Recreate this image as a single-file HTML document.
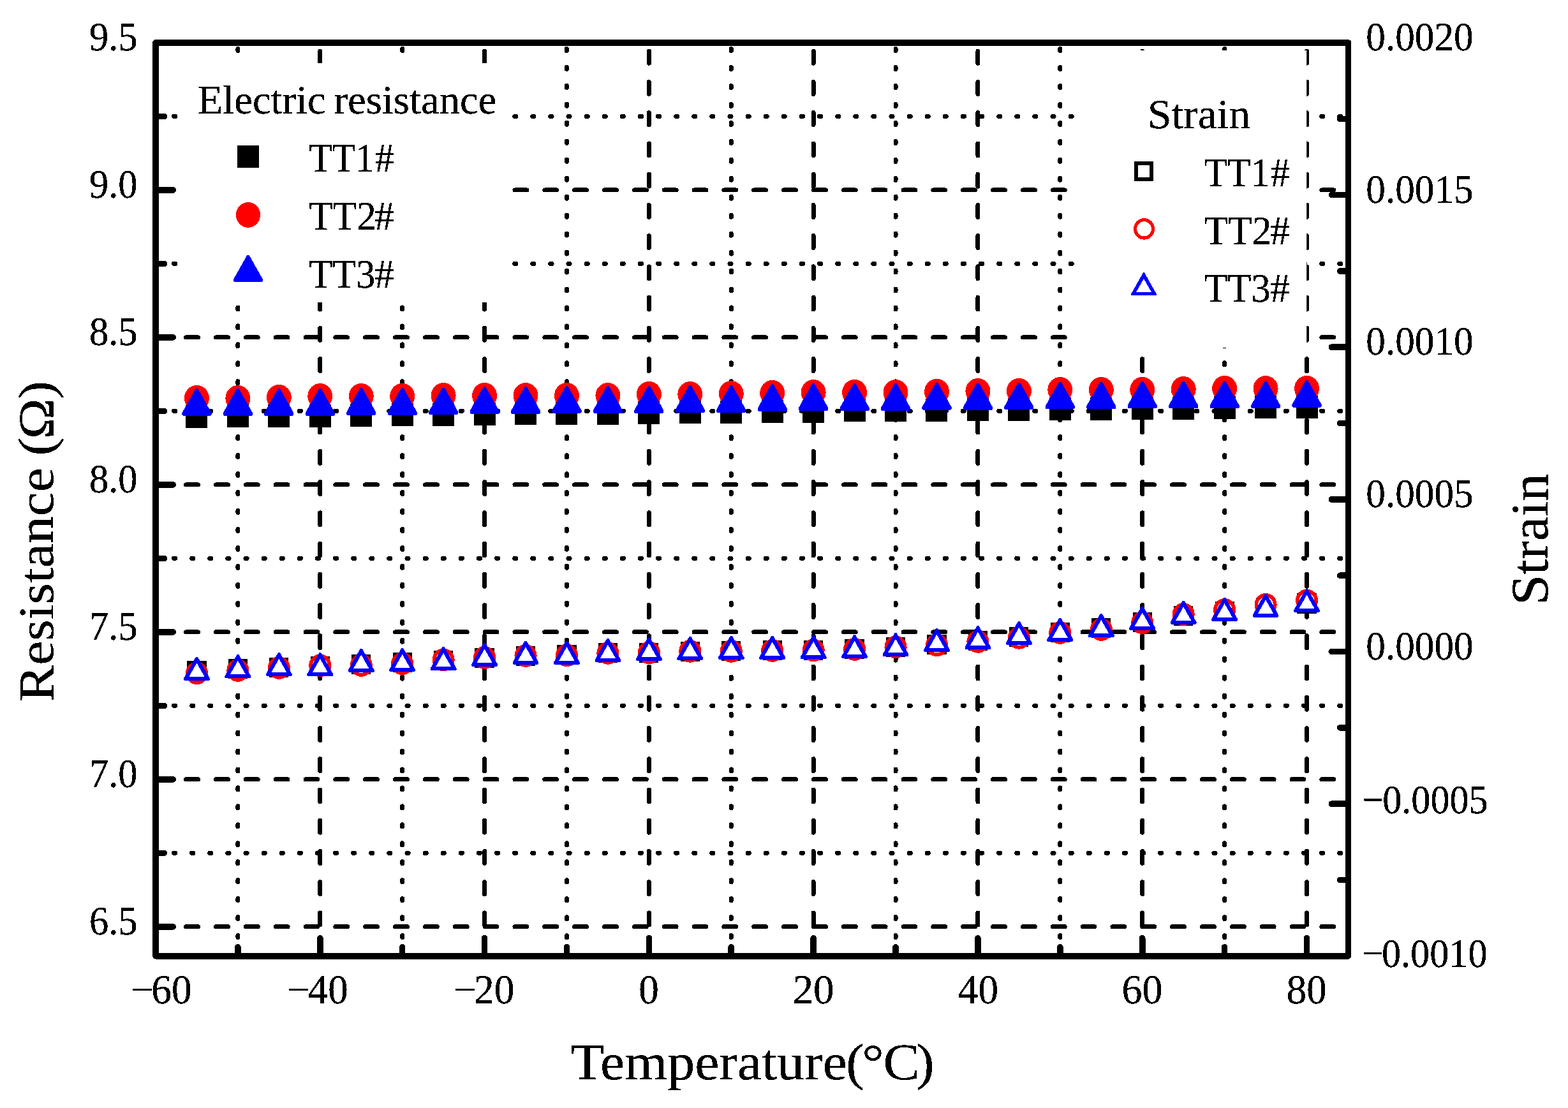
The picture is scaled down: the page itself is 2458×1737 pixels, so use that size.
<!DOCTYPE html>
<html lang="en"><head><meta charset="utf-8"><title>Resistance and strain versus temperature</title>
<style>html,body{margin:0;padding:0;background:#fff}svg{display:block}</style></head>
<body><svg width="2458" height="1737" viewBox="0 0 2458 1737">
<rect width="2458" height="1737" fill="#fff"/>
<g fill="none" stroke="#000" stroke-width="7.0" stroke-linecap="round" shape-rendering="crispEdges"><path d="M244.75 1452.80H2113.50" stroke-dasharray="18.9 27.95"/><path d="M244.75 1221.83H2113.50" stroke-dasharray="18.9 27.95"/><path d="M244.75 990.87H2113.50" stroke-dasharray="18.9 27.95"/><path d="M244.75 759.90H2113.50" stroke-dasharray="18.9 27.95"/><path d="M244.75 528.93H2113.50" stroke-dasharray="18.9 27.95"/><path d="M244.75 297.97H2113.50" stroke-dasharray="18.9 27.95"/><path d="M244.40 1337.32H2113.50" stroke-dasharray="2.2 25.91"/><path d="M244.40 1106.35H2113.50" stroke-dasharray="2.2 25.91"/><path d="M244.40 875.38H2113.50" stroke-dasharray="2.2 25.91"/><path d="M244.40 644.42H2113.50" stroke-dasharray="2.2 25.91"/><path d="M244.40 413.45H2113.50" stroke-dasharray="2.2 25.91"/><path d="M244.40 182.48H2113.50" stroke-dasharray="2.2 25.91"/><path d="M501.79 1498.10V67.00" stroke-dasharray="18.9 29.34"/><path d="M759.57 1498.10V67.00" stroke-dasharray="18.9 29.34"/><path d="M1017.36 1498.10V67.00" stroke-dasharray="18.9 29.34"/><path d="M1275.14 1498.10V67.00" stroke-dasharray="18.9 29.34"/><path d="M1532.93 1498.10V67.00" stroke-dasharray="18.9 29.34"/><path d="M1790.71 1498.10V67.00" stroke-dasharray="18.9 29.34"/><path d="M2048.50 1498.10V67.00" stroke-dasharray="18.9 29.34"/><path d="M372.89 1498.56V67.00" stroke-dasharray="3.0 25.960"/><path d="M630.68 1498.56V67.00" stroke-dasharray="3.0 25.960"/><path d="M888.46 1498.56V67.00" stroke-dasharray="3.0 25.960"/><path d="M1146.25 1498.56V67.00" stroke-dasharray="3.0 25.960"/><path d="M1404.04 1498.56V67.00" stroke-dasharray="3.0 25.960"/><path d="M1661.82 1498.56V67.00" stroke-dasharray="3.0 25.960"/><path d="M1919.61 1498.56V67.00" stroke-dasharray="3.0 25.960"/></g>
<rect x="283" y="99" width="507" height="375" fill="#fff"/>
<rect x="1689" y="79" width="359.2" height="466" fill="#fff"/>
<g shape-rendering="crispEdges"><rect x="291.45" y="635.40" width="34.0" height="35.4" fill="#000"/><ellipse cx="308.45" cy="624.10" rx="19.5" ry="20.1" fill="#f00"/><path d="M306.69 609.40L310.20 609.40L331.50 647.10L331.50 650.40L330.20 651.70L286.70 651.70L285.40 650.40L285.40 647.10Z" fill="#00f"/><rect x="355.89" y="634.40" width="34.0" height="35.4" fill="#000"/><ellipse cx="372.89" cy="624.10" rx="19.5" ry="20.1" fill="#f00"/><path d="M371.14 609.40L374.64 609.40L395.94 647.10L395.94 650.40L394.64 651.70L351.14 651.70L349.84 650.40L349.84 647.10Z" fill="#00f"/><rect x="420.34" y="634.40" width="34.0" height="35.4" fill="#000"/><ellipse cx="437.34" cy="623.10" rx="19.5" ry="20.1" fill="#f00"/><path d="M435.59 609.40L439.09 609.40L460.39 647.10L460.39 650.40L459.09 651.70L415.59 651.70L414.29 650.40L414.29 647.10Z" fill="#00f"/><rect x="484.79" y="634.40" width="34.0" height="35.4" fill="#000"/><ellipse cx="501.79" cy="621.10" rx="19.5" ry="20.1" fill="#f00"/><path d="M500.03 609.40L503.54 609.40L524.84 647.10L524.84 650.40L523.54 651.70L480.04 651.70L478.74 650.40L478.74 647.10Z" fill="#00f"/><rect x="549.23" y="633.40" width="34.0" height="35.4" fill="#000"/><ellipse cx="566.23" cy="621.10" rx="19.5" ry="20.1" fill="#f00"/><path d="M564.48 608.40L567.98 608.40L589.28 646.10L589.28 649.40L587.98 650.70L544.48 650.70L543.18 649.40L543.18 646.10Z" fill="#00f"/><rect x="613.68" y="632.40" width="34.0" height="35.4" fill="#000"/><ellipse cx="630.68" cy="621.10" rx="19.5" ry="20.1" fill="#f00"/><path d="M628.93 608.40L632.43 608.40L653.73 646.10L653.73 649.40L652.43 650.70L608.93 650.70L607.63 649.40L607.63 646.10Z" fill="#00f"/><rect x="678.12" y="632.40" width="34.0" height="35.4" fill="#000"/><ellipse cx="695.12" cy="620.10" rx="19.5" ry="20.1" fill="#f00"/><path d="M693.37 607.80L696.88 607.80L718.17 645.50L718.17 648.80L716.88 650.10L673.38 650.10L672.08 648.80L672.08 645.50Z" fill="#00f"/><rect x="742.57" y="631.40" width="34.0" height="35.4" fill="#000"/><ellipse cx="759.57" cy="620.10" rx="19.5" ry="20.1" fill="#f00"/><path d="M757.82 606.40L761.32 606.40L782.62 644.10L782.62 647.40L781.32 648.70L737.82 648.70L736.52 647.40L736.52 644.10Z" fill="#00f"/><rect x="807.02" y="630.40" width="34.0" height="35.4" fill="#000"/><ellipse cx="824.02" cy="620.10" rx="19.5" ry="20.1" fill="#f00"/><path d="M822.27 606.40L825.77 606.40L847.07 644.10L847.07 647.40L845.77 648.70L802.27 648.70L800.97 647.40L800.97 644.10Z" fill="#00f"/><rect x="871.46" y="630.40" width="34.0" height="35.4" fill="#000"/><ellipse cx="888.46" cy="620.10" rx="19.5" ry="20.1" fill="#f00"/><path d="M886.71 605.40L890.22 605.40L911.51 643.10L911.51 646.40L910.21 647.70L866.71 647.70L865.41 646.40L865.41 643.10Z" fill="#00f"/><rect x="935.91" y="630.40" width="34.0" height="35.4" fill="#000"/><ellipse cx="952.91" cy="620.10" rx="19.5" ry="20.1" fill="#f00"/><path d="M951.16 605.40L954.66 605.40L975.96 643.10L975.96 646.40L974.66 647.70L931.16 647.70L929.86 646.40L929.86 643.10Z" fill="#00f"/><rect x="1000.36" y="629.40" width="34.0" height="35.4" fill="#000"/><ellipse cx="1017.36" cy="618.10" rx="19.5" ry="20.1" fill="#f00"/><path d="M1015.61 605.40L1019.11 605.40L1040.41 643.10L1040.41 646.40L1039.11 647.70L995.61 647.70L994.31 646.40L994.31 643.10Z" fill="#00f"/><rect x="1064.80" y="628.40" width="34.0" height="35.4" fill="#000"/><ellipse cx="1081.80" cy="618.10" rx="19.5" ry="20.1" fill="#f00"/><path d="M1080.05 604.40L1083.56 604.40L1104.85 642.10L1104.85 645.40L1103.55 646.70L1060.05 646.70L1058.75 645.40L1058.75 642.10Z" fill="#00f"/><rect x="1129.25" y="628.40" width="34.0" height="35.4" fill="#000"/><ellipse cx="1146.25" cy="617.10" rx="19.5" ry="20.1" fill="#f00"/><path d="M1144.50 604.40L1148.00 604.40L1169.30 642.10L1169.30 645.40L1168.00 646.70L1124.50 646.70L1123.20 645.40L1123.20 642.10Z" fill="#00f"/><rect x="1193.70" y="627.30" width="34.0" height="35.4" fill="#000"/><ellipse cx="1210.70" cy="616.10" rx="19.5" ry="20.1" fill="#f00"/><path d="M1208.94 602.40L1212.45 602.40L1233.75 640.10L1233.75 643.40L1232.45 644.70L1188.95 644.70L1187.65 643.40L1187.65 640.10Z" fill="#00f"/><rect x="1258.14" y="627.30" width="34.0" height="35.4" fill="#000"/><ellipse cx="1275.14" cy="615.10" rx="19.5" ry="20.1" fill="#f00"/><path d="M1273.39 601.40L1276.89 601.40L1298.19 639.10L1298.19 642.40L1296.89 643.70L1253.39 643.70L1252.09 642.40L1252.09 639.10Z" fill="#00f"/><rect x="1322.59" y="625.30" width="34.0" height="35.4" fill="#000"/><ellipse cx="1339.59" cy="615.10" rx="19.5" ry="20.1" fill="#f00"/><path d="M1337.84 601.40L1341.34 601.40L1362.64 639.10L1362.64 642.40L1361.34 643.70L1317.84 643.70L1316.54 642.40L1316.54 639.10Z" fill="#00f"/><rect x="1387.04" y="625.30" width="34.0" height="35.4" fill="#000"/><ellipse cx="1404.04" cy="615.10" rx="19.5" ry="20.1" fill="#f00"/><path d="M1402.28 601.40L1405.79 601.40L1427.09 639.10L1427.09 642.40L1425.79 643.70L1382.29 643.70L1380.99 642.40L1380.99 639.10Z" fill="#00f"/><rect x="1451.48" y="625.30" width="34.0" height="35.4" fill="#000"/><ellipse cx="1468.48" cy="614.10" rx="19.5" ry="20.1" fill="#f00"/><path d="M1466.73 600.40L1470.23 600.40L1491.53 638.10L1491.53 641.40L1490.23 642.70L1446.73 642.70L1445.43 641.40L1445.43 638.10Z" fill="#00f"/><rect x="1515.93" y="624.30" width="34.0" height="35.4" fill="#000"/><ellipse cx="1532.93" cy="613.10" rx="19.5" ry="20.1" fill="#f00"/><path d="M1531.18 600.40L1534.68 600.40L1555.98 638.10L1555.98 641.40L1554.68 642.70L1511.18 642.70L1509.88 641.40L1509.88 638.10Z" fill="#00f"/><rect x="1580.38" y="624.30" width="34.0" height="35.4" fill="#000"/><ellipse cx="1597.38" cy="613.10" rx="19.5" ry="20.1" fill="#f00"/><path d="M1595.62 599.80L1599.13 599.80L1620.42 637.50L1620.42 640.80L1619.12 642.10L1575.62 642.10L1574.33 640.80L1574.33 637.50Z" fill="#00f"/><rect x="1644.82" y="623.30" width="34.0" height="35.4" fill="#000"/><ellipse cx="1661.82" cy="611.10" rx="19.5" ry="20.1" fill="#f00"/><path d="M1660.07 598.80L1663.57 598.80L1684.87 636.50L1684.87 639.80L1683.57 641.10L1640.07 641.10L1638.77 639.80L1638.77 636.50Z" fill="#00f"/><rect x="1709.27" y="623.30" width="34.0" height="35.4" fill="#000"/><ellipse cx="1726.27" cy="611.10" rx="19.5" ry="20.1" fill="#f00"/><path d="M1724.52 598.80L1728.02 598.80L1749.32 636.50L1749.32 639.80L1748.02 641.10L1704.52 641.10L1703.22 639.80L1703.22 636.50Z" fill="#00f"/><rect x="1773.71" y="622.30" width="34.0" height="35.4" fill="#000"/><ellipse cx="1790.71" cy="611.10" rx="19.5" ry="20.1" fill="#f00"/><path d="M1788.96 597.80L1792.47 597.80L1813.76 635.50L1813.76 638.80L1812.46 640.10L1768.96 640.10L1767.66 638.80L1767.66 635.50Z" fill="#00f"/><rect x="1838.16" y="622.30" width="34.0" height="35.4" fill="#000"/><ellipse cx="1855.16" cy="610.10" rx="19.5" ry="20.1" fill="#f00"/><path d="M1853.41 597.80L1856.91 597.80L1878.21 635.50L1878.21 638.80L1876.91 640.10L1833.41 640.10L1832.11 638.80L1832.11 635.50Z" fill="#00f"/><rect x="1902.61" y="621.30" width="34.0" height="35.4" fill="#000"/><ellipse cx="1919.61" cy="609.10" rx="19.5" ry="20.1" fill="#f00"/><path d="M1917.86 597.80L1921.36 597.80L1942.66 635.50L1942.66 638.80L1941.36 640.10L1897.86 640.10L1896.56 638.80L1896.56 635.50Z" fill="#00f"/><rect x="1967.05" y="620.30" width="34.0" height="35.4" fill="#000"/><ellipse cx="1984.05" cy="609.10" rx="19.5" ry="20.1" fill="#f00"/><path d="M1982.30 597.80L1985.81 597.80L2007.10 635.50L2007.10 638.80L2005.80 640.10L1962.30 640.10L1961.00 638.80L1961.00 635.50Z" fill="#00f"/><rect x="2031.50" y="620.30" width="34.0" height="35.4" fill="#000"/><ellipse cx="2048.50" cy="609.10" rx="19.5" ry="20.1" fill="#f00"/><path d="M2046.75 596.40L2050.25 596.40L2071.55 634.10L2071.55 637.40L2070.25 638.70L2026.75 638.70L2025.45 637.40L2025.45 634.10Z" fill="#00f"/><rect x="296.40" y="1038.75" width="24.10" height="25.10" fill="#fff" stroke="#000" stroke-width="6.1"/><ellipse cx="308.45" cy="1055.30" rx="14.65" ry="15.00" fill="#fff" stroke="#f00" stroke-width="5.8"/><path d="M307.09 1029.60L309.80 1029.60L328.85 1063.29L328.85 1065.50L327.55 1066.80L289.35 1066.80L288.05 1065.50L288.05 1063.29Z" fill="#00f"/><path d="M308.45 1039.40L320.55 1060.80H296.35Z" fill="#fff"/><rect x="360.84" y="1036.15" width="24.10" height="25.10" fill="#fff" stroke="#000" stroke-width="6.1"/><ellipse cx="372.89" cy="1050.90" rx="14.65" ry="15.00" fill="#fff" stroke="#f00" stroke-width="5.8"/><path d="M371.54 1026.00L374.24 1026.00L393.29 1059.69L393.29 1061.90L391.99 1063.20L353.79 1063.20L352.49 1061.90L352.49 1059.69Z" fill="#00f"/><path d="M372.89 1035.80L384.99 1057.20H360.79Z" fill="#fff"/><rect x="425.29" y="1033.75" width="24.10" height="25.10" fill="#fff" stroke="#000" stroke-width="6.1"/><ellipse cx="437.34" cy="1046.90" rx="14.65" ry="15.00" fill="#fff" stroke="#f00" stroke-width="5.8"/><path d="M435.99 1023.00L438.69 1023.00L457.74 1056.69L457.74 1058.90L456.44 1060.20L418.24 1060.20L416.94 1058.90L416.94 1056.69Z" fill="#00f"/><path d="M437.34 1032.80L449.44 1054.20H425.24Z" fill="#fff"/><rect x="489.74" y="1032.15" width="24.10" height="25.10" fill="#fff" stroke="#000" stroke-width="6.1"/><ellipse cx="501.79" cy="1043.30" rx="14.65" ry="15.00" fill="#fff" stroke="#f00" stroke-width="5.8"/><path d="M500.43 1023.00L503.14 1023.00L522.19 1056.69L522.19 1058.90L520.89 1060.20L482.69 1060.20L481.39 1058.90L481.39 1056.69Z" fill="#00f"/><path d="M501.79 1032.80L513.89 1054.20H489.69Z" fill="#fff"/><rect x="554.18" y="1029.15" width="24.10" height="25.10" fill="#fff" stroke="#000" stroke-width="6.1"/><ellipse cx="566.23" cy="1042.90" rx="14.65" ry="15.00" fill="#fff" stroke="#f00" stroke-width="5.8"/><path d="M564.88 1016.60L567.58 1016.60L586.63 1050.29L586.63 1052.50L585.33 1053.80L547.13 1053.80L545.83 1052.50L545.83 1050.29Z" fill="#00f"/><path d="M566.23 1026.40L578.33 1047.80H554.13Z" fill="#fff"/><rect x="618.63" y="1026.15" width="24.10" height="25.10" fill="#fff" stroke="#000" stroke-width="6.1"/><ellipse cx="630.68" cy="1040.30" rx="14.65" ry="15.00" fill="#fff" stroke="#f00" stroke-width="5.8"/><path d="M629.33 1016.00L632.03 1016.00L651.08 1049.69L651.08 1051.90L649.78 1053.20L611.58 1053.20L610.28 1051.90L610.28 1049.69Z" fill="#00f"/><path d="M630.68 1025.80L642.78 1047.20H618.58Z" fill="#fff"/><rect x="683.07" y="1023.15" width="24.10" height="25.10" fill="#fff" stroke="#000" stroke-width="6.1"/><ellipse cx="695.12" cy="1034.30" rx="14.65" ry="15.00" fill="#fff" stroke="#f00" stroke-width="5.8"/><path d="M693.77 1014.00L696.48 1014.00L715.52 1047.69L715.52 1049.90L714.23 1051.20L676.02 1051.20L674.73 1049.90L674.73 1047.69Z" fill="#00f"/><path d="M695.12 1023.80L707.23 1045.20H683.02Z" fill="#fff"/><rect x="747.52" y="1019.15" width="24.10" height="25.10" fill="#fff" stroke="#000" stroke-width="6.1"/><ellipse cx="759.57" cy="1030.90" rx="14.65" ry="15.00" fill="#fff" stroke="#f00" stroke-width="5.8"/><path d="M758.22 1007.60L760.92 1007.60L779.97 1041.29L779.97 1043.50L778.67 1044.80L740.47 1044.80L739.17 1043.50L739.17 1041.29Z" fill="#00f"/><path d="M759.57 1017.40L771.67 1038.80H747.47Z" fill="#fff"/><rect x="811.97" y="1016.15" width="24.10" height="25.10" fill="#fff" stroke="#000" stroke-width="6.1"/><ellipse cx="824.02" cy="1027.90" rx="14.65" ry="15.00" fill="#fff" stroke="#f00" stroke-width="5.8"/><path d="M822.67 1004.50L825.37 1004.50L844.42 1038.19L844.42 1040.40L843.12 1041.70L804.92 1041.70L803.62 1040.40L803.62 1038.19Z" fill="#00f"/><path d="M824.02 1014.30L836.12 1035.70H811.92Z" fill="#fff"/><rect x="876.41" y="1014.15" width="24.10" height="25.10" fill="#fff" stroke="#000" stroke-width="6.1"/><ellipse cx="888.46" cy="1027.30" rx="14.65" ry="15.00" fill="#fff" stroke="#f00" stroke-width="5.8"/><path d="M887.11 1004.50L889.82 1004.50L908.86 1038.19L908.86 1040.40L907.56 1041.70L869.36 1041.70L868.06 1040.40L868.06 1038.19Z" fill="#00f"/><path d="M888.46 1014.30L900.56 1035.70H876.36Z" fill="#fff"/><rect x="940.86" y="1011.15" width="24.10" height="25.10" fill="#fff" stroke="#000" stroke-width="6.1"/><ellipse cx="952.91" cy="1023.80" rx="14.65" ry="15.00" fill="#fff" stroke="#f00" stroke-width="5.8"/><path d="M951.56 1000.90L954.26 1000.90L973.31 1034.59L973.31 1036.80L972.01 1038.10L933.81 1038.10L932.51 1036.80L932.51 1034.59Z" fill="#00f"/><path d="M952.91 1010.70L965.01 1032.10H940.81Z" fill="#fff"/><rect x="1005.31" y="1011.15" width="24.10" height="25.10" fill="#fff" stroke="#000" stroke-width="6.1"/><ellipse cx="1017.36" cy="1023.20" rx="14.65" ry="15.00" fill="#fff" stroke="#f00" stroke-width="5.8"/><path d="M1016.01 998.90L1018.71 998.90L1037.76 1032.59L1037.76 1034.80L1036.46 1036.10L998.26 1036.10L996.96 1034.80L996.96 1032.59Z" fill="#00f"/><path d="M1017.36 1008.70L1029.46 1030.10H1005.26Z" fill="#fff"/><rect x="1069.75" y="1009.15" width="24.10" height="25.10" fill="#fff" stroke="#000" stroke-width="6.1"/><ellipse cx="1081.80" cy="1020.80" rx="14.65" ry="15.00" fill="#fff" stroke="#f00" stroke-width="5.8"/><path d="M1080.45 997.90L1083.16 997.90L1102.20 1031.59L1102.20 1033.80L1100.90 1035.10L1062.70 1035.10L1061.40 1033.80L1061.40 1031.59Z" fill="#00f"/><path d="M1081.80 1007.70L1093.90 1029.10H1069.70Z" fill="#fff"/><rect x="1134.20" y="1008.15" width="24.10" height="25.10" fill="#fff" stroke="#000" stroke-width="6.1"/><ellipse cx="1146.25" cy="1020.80" rx="14.65" ry="15.00" fill="#fff" stroke="#f00" stroke-width="5.8"/><path d="M1144.90 996.90L1147.60 996.90L1166.65 1030.59L1166.65 1032.80L1165.35 1034.10L1127.15 1034.10L1125.85 1032.80L1125.85 1030.59Z" fill="#00f"/><path d="M1146.25 1006.70L1158.35 1028.10H1134.15Z" fill="#fff"/><rect x="1198.65" y="1007.15" width="24.10" height="25.10" fill="#fff" stroke="#000" stroke-width="6.1"/><ellipse cx="1210.70" cy="1019.90" rx="14.65" ry="15.00" fill="#fff" stroke="#f00" stroke-width="5.8"/><path d="M1209.34 996.60L1212.05 996.60L1231.10 1030.29L1231.10 1032.50L1229.80 1033.80L1191.60 1033.80L1190.30 1032.50L1190.30 1030.29Z" fill="#00f"/><path d="M1210.70 1006.40L1222.80 1027.80H1198.60Z" fill="#fff"/><rect x="1263.09" y="1007.15" width="24.10" height="25.10" fill="#fff" stroke="#000" stroke-width="6.1"/><ellipse cx="1275.14" cy="1019.30" rx="14.65" ry="15.00" fill="#fff" stroke="#f00" stroke-width="5.8"/><path d="M1273.79 996.00L1276.49 996.00L1295.54 1029.69L1295.54 1031.90L1294.24 1033.20L1256.04 1033.20L1254.74 1031.90L1254.74 1029.69Z" fill="#00f"/><path d="M1275.14 1005.80L1287.24 1027.20H1263.04Z" fill="#fff"/><rect x="1327.54" y="1005.15" width="24.10" height="25.10" fill="#fff" stroke="#000" stroke-width="6.1"/><ellipse cx="1339.59" cy="1017.90" rx="14.65" ry="15.00" fill="#fff" stroke="#f00" stroke-width="5.8"/><path d="M1338.24 995.00L1340.94 995.00L1359.99 1028.69L1359.99 1030.90L1358.69 1032.20L1320.49 1032.20L1319.19 1030.90L1319.19 1028.69Z" fill="#00f"/><path d="M1339.59 1004.80L1351.69 1026.20H1327.49Z" fill="#fff"/><rect x="1391.99" y="1002.15" width="24.10" height="25.10" fill="#fff" stroke="#000" stroke-width="6.1"/><ellipse cx="1404.04" cy="1014.30" rx="14.65" ry="15.00" fill="#fff" stroke="#f00" stroke-width="5.8"/><path d="M1402.68 992.00L1405.39 992.00L1424.44 1025.69L1424.44 1027.90L1423.14 1029.20L1384.94 1029.20L1383.64 1027.90L1383.64 1025.69Z" fill="#00f"/><path d="M1404.04 1001.80L1416.14 1023.20H1391.94Z" fill="#fff"/><rect x="1456.43" y="998.15" width="24.10" height="25.10" fill="#fff" stroke="#000" stroke-width="6.1"/><ellipse cx="1468.48" cy="1011.30" rx="14.65" ry="15.00" fill="#fff" stroke="#f00" stroke-width="5.8"/><path d="M1467.13 984.90L1469.83 984.90L1488.88 1018.59L1488.88 1020.80L1487.58 1022.10L1449.38 1022.10L1448.08 1020.80L1448.08 1018.59Z" fill="#00f"/><path d="M1468.48 994.70L1480.58 1016.10H1456.38Z" fill="#fff"/><rect x="1520.88" y="992.15" width="24.10" height="25.10" fill="#fff" stroke="#000" stroke-width="6.1"/><ellipse cx="1532.93" cy="1005.90" rx="14.65" ry="15.00" fill="#fff" stroke="#f00" stroke-width="5.8"/><path d="M1531.58 980.90L1534.28 980.90L1553.33 1014.59L1553.33 1016.80L1552.03 1018.10L1513.83 1018.10L1512.53 1016.80L1512.53 1014.59Z" fill="#00f"/><path d="M1532.93 990.70L1545.03 1012.10H1520.83Z" fill="#fff"/><rect x="1585.33" y="986.15" width="24.10" height="25.10" fill="#fff" stroke="#000" stroke-width="6.1"/><ellipse cx="1597.38" cy="999.80" rx="14.65" ry="15.00" fill="#fff" stroke="#f00" stroke-width="5.8"/><path d="M1596.02 973.90L1598.73 973.90L1617.78 1007.59L1617.78 1009.80L1616.48 1011.10L1578.27 1011.10L1576.97 1009.80L1576.97 1007.59Z" fill="#00f"/><path d="M1597.38 983.70L1609.47 1005.10H1585.28Z" fill="#fff"/><rect x="1649.77" y="979.15" width="24.10" height="25.10" fill="#fff" stroke="#000" stroke-width="6.1"/><ellipse cx="1661.82" cy="991.90" rx="14.65" ry="15.00" fill="#fff" stroke="#f00" stroke-width="5.8"/><path d="M1660.47 968.60L1663.17 968.60L1682.22 1002.29L1682.22 1004.50L1680.92 1005.80L1642.72 1005.80L1641.42 1004.50L1641.42 1002.29Z" fill="#00f"/><path d="M1661.82 978.40L1673.92 999.80H1649.72Z" fill="#fff"/><rect x="1714.22" y="972.15" width="24.10" height="25.10" fill="#fff" stroke="#000" stroke-width="6.1"/><ellipse cx="1726.27" cy="986.90" rx="14.65" ry="15.00" fill="#fff" stroke="#f00" stroke-width="5.8"/><path d="M1724.92 962.00L1727.62 962.00L1746.67 995.69L1746.67 997.90L1745.37 999.20L1707.17 999.20L1705.87 997.90L1705.87 995.69Z" fill="#00f"/><path d="M1726.27 971.80L1738.37 993.20H1714.17Z" fill="#fff"/><rect x="1778.66" y="962.75" width="24.10" height="25.10" fill="#fff" stroke="#000" stroke-width="6.1"/><ellipse cx="1790.71" cy="976.30" rx="14.65" ry="15.00" fill="#fff" stroke="#f00" stroke-width="5.8"/><path d="M1789.36 950.60L1792.07 950.60L1811.11 984.29L1811.11 986.50L1809.81 987.80L1771.61 987.80L1770.31 986.50L1770.31 984.29Z" fill="#00f"/><path d="M1790.71 960.40L1802.81 981.80H1778.61Z" fill="#fff"/><rect x="1843.11" y="953.15" width="24.10" height="25.10" fill="#fff" stroke="#000" stroke-width="6.1"/><ellipse cx="1855.16" cy="963.00" rx="14.65" ry="15.00" fill="#fff" stroke="#f00" stroke-width="5.8"/><path d="M1853.81 941.50L1856.51 941.50L1875.56 975.19L1875.56 977.40L1874.26 978.70L1836.06 978.70L1834.76 977.40L1834.76 975.19Z" fill="#00f"/><path d="M1855.16 951.30L1867.26 972.70H1843.06Z" fill="#fff"/><rect x="1907.56" y="946.15" width="24.10" height="25.10" fill="#fff" stroke="#000" stroke-width="6.1"/><ellipse cx="1919.61" cy="956.00" rx="14.65" ry="15.00" fill="#fff" stroke="#f00" stroke-width="5.8"/><path d="M1918.26 936.50L1920.96 936.50L1940.01 970.19L1940.01 972.40L1938.71 973.70L1900.51 973.70L1899.21 972.40L1899.21 970.19Z" fill="#00f"/><path d="M1919.61 946.30L1931.71 967.70H1907.51Z" fill="#fff"/><rect x="1972.00" y="939.85" width="24.10" height="25.10" fill="#fff" stroke="#000" stroke-width="6.1"/><ellipse cx="1984.05" cy="947.80" rx="14.65" ry="15.00" fill="#fff" stroke="#f00" stroke-width="5.8"/><path d="M1982.70 930.50L1985.41 930.50L2004.45 964.19L2004.45 966.40L2003.15 967.70L1964.95 967.70L1963.65 966.40L1963.65 964.19Z" fill="#00f"/><path d="M1984.05 940.30L1996.15 961.70H1971.95Z" fill="#fff"/><rect x="2036.45" y="933.55" width="24.10" height="25.10" fill="#fff" stroke="#000" stroke-width="6.1"/><ellipse cx="2048.50" cy="941.40" rx="14.65" ry="15.00" fill="#fff" stroke="#f00" stroke-width="5.8"/><path d="M2047.15 922.90L2049.85 922.90L2068.90 956.59L2068.90 958.80L2067.60 960.10L2029.40 960.10L2028.10 958.80L2028.10 956.59Z" fill="#00f"/><path d="M2048.50 932.70L2060.60 954.10H2036.40Z" fill="#fff"/><rect x="371.95" y="227.80" width="34.1" height="35.2" fill="#000"/><ellipse cx="389.00" cy="336.85" rx="19.1" ry="19.95" fill="#f00"/><path d="M387.25 400.20L390.75 400.20L411.60 437.19L411.60 440.50L410.30 441.80L367.70 441.80L366.40 440.50L366.40 437.19Z" fill="#00f"/><rect x="1780.85" y="255.95" width="24.30" height="25.00" fill="#fff" stroke="#000" stroke-width="5.9"/><ellipse cx="1793.50" cy="358.90" rx="13.95" ry="14.20" fill="#fff" stroke="#f00" stroke-width="5.2"/><path d="M1792.85 426.00L1793.15 426.00L1812.95 460.95L1812.95 462.10L1811.65 463.40L1774.35 463.40L1773.05 462.10L1773.05 460.95Z" fill="#00f"/><path d="M1793.00 436.90L1804.90 457.90H1781.10Z" fill="#fff"/></g>
<g fill="none" stroke="#000" stroke-width="9.6" stroke-linecap="round" shape-rendering="crispEdges"><path d="M244.0 1452.80H271.2"/><path d="M244.0 1221.83H271.2"/><path d="M244.0 990.87H271.2"/><path d="M244.0 759.90H271.2"/><path d="M244.0 528.93H271.2"/><path d="M244.0 297.97H271.2"/><path d="M244.0 1337.32H257.3"/><path d="M244.0 1106.35H257.3"/><path d="M244.0 875.38H257.3"/><path d="M244.0 644.42H257.3"/><path d="M244.0 413.45H257.3"/><path d="M244.0 182.48H257.3"/><path d="M501.79 1498.8V1470.7"/><path d="M759.57 1498.8V1470.7"/><path d="M1017.36 1498.8V1470.7"/><path d="M1275.14 1498.8V1470.7"/><path d="M1532.93 1498.8V1470.7"/><path d="M1790.71 1498.8V1470.7"/><path d="M2048.50 1498.8V1470.7"/><path d="M372.89 1498.8V1484.8"/><path d="M630.68 1498.8V1484.8"/><path d="M888.46 1498.8V1484.8"/><path d="M1146.25 1498.8V1484.8"/><path d="M1404.04 1498.8V1484.8"/><path d="M1661.82 1498.8V1484.8"/><path d="M1919.61 1498.8V1484.8"/><path d="M2113.5 1260.17H2087.3"/><path d="M2113.5 1021.53H2087.3"/><path d="M2113.5 782.90H2087.3"/><path d="M2113.5 544.27H2087.3"/><path d="M2113.5 305.63H2087.3"/><path d="M2113.5 1379.48H2100.6"/><path d="M2113.5 1140.85H2100.6"/><path d="M2113.5 902.22H2100.6"/><path d="M2113.5 663.58H2100.6"/><path d="M2113.5 424.95H2100.6"/><path d="M2113.5 186.32H2100.6"/></g>
<rect x="244.0" y="67.0" width="1869.5" height="1431.8" fill="none" stroke="#000" stroke-width="9.6" stroke-linejoin="round" shape-rendering="crispEdges"/>
<defs><filter id="bw" x="-5%" y="-5%" width="110%" height="110%" color-interpolation-filters="sRGB"><feComponentTransfer><feFuncA type="discrete" tableValues="0 0 0 1 1 1 1 1 1 1"/></feComponentTransfer></filter></defs>
<g filter="url(#bw)" font-family="'Liberation Serif', 'DejaVu Serif', serif" font-size="100" fill="#000" xml:space="preserve">
<text transform="matrix(0.6051 0 0 0.6400 139.98 79.24)">9.5</text>
<text transform="matrix(0.6051 0 0 0.6400 139.98 310.21)">9.0</text>
<text transform="matrix(0.6051 0 0 0.6400 139.98 541.17)">8.5</text>
<text transform="matrix(0.6051 0 0 0.6400 139.98 772.14)">8.0</text>
<text transform="matrix(0.6051 0 0 0.6400 139.98 1003.11)">7.5</text>
<text transform="matrix(0.6051 0 0 0.6400 139.98 1234.07)">7.0</text>
<text transform="matrix(0.6051 0 0 0.6400 139.98 1465.04)">6.5</text>
<text transform="matrix(0.6120 0 0 0.6412 2141.35 79.24)">0.0020</text>
<text transform="matrix(0.6120 0 0 0.6412 2141.35 317.87)">0.0015</text>
<text transform="matrix(0.6120 0 0 0.6412 2141.35 556.50)">0.0010</text>
<text transform="matrix(0.6120 0 0 0.6412 2141.35 795.14)">0.0005</text>
<text transform="matrix(0.6120 0 0 0.6412 2141.35 1033.77)">0.0000</text>
<text x="0.00 53.49 103.49 128.49 178.49 228.49 278.49" transform="matrix(0.6011 0 0 0.6338 2135.14 1274.85)">−0.0005</text>
<text x="0.00 51.32 101.32 126.32 176.32 226.32 276.32" transform="matrix(0.6019 0 0 0.6382 2135.10 1516.24)">−0.0010</text>
<text x="0.00 50.00 100.00" transform="matrix(0.6339 0 0 0.6474 205.56 1573.35)">−60</text>
<text x="0.00 51.56 101.56" transform="matrix(0.6298 0 0 0.6474 450.27 1573.35)">−40</text>
<text x="0.00 50.31 100.31" transform="matrix(0.6350 0 0 0.6474 711.10 1573.35)">−20</text>
<text transform="matrix(0.6310 0 0 0.6474 1001.18 1573.35)">0</text>
<text transform="matrix(0.6481 0 0 0.6474 1242.68 1573.35)">20</text>
<text transform="matrix(0.6309 0 0 0.6474 1501.84 1573.35)">40</text>
<text transform="matrix(0.6393 0 0 0.6474 1758.42 1573.35)">60</text>
<text transform="matrix(0.6283 0 0 0.6474 2016.79 1573.35)">80</text>
<text x="0.00 61.08 88.87 133.25 177.63 205.41 238.72 266.50 310.88 330.49 363.79 408.18 447.09 474.88 513.79 541.57 585.96 635.96 680.35" transform="matrix(0.6466 0 0 0.6371 309.76 178.06)">Electric resistance</text>
<text x="0.00 61.08 122.16 173.87" transform="matrix(0.5933 0 0 0.6397 484.51 268.90)">TT1#</text>
<text x="0.00 61.08 122.16 167.99" transform="matrix(0.6116 0 0 0.6397 484.48 359.80)">TT2#</text>
<text x="0.00 61.08 122.16 170.69" transform="matrix(0.6030 0 0 0.6397 484.49 450.60)">TT3#</text>
<text transform="matrix(0.6749 0 0 0.6582 1799.01 201.04)">Strain</text>
<text x="0.00 61.08 122.16 174.69" transform="matrix(0.5951 0 0 0.6336 1887.81 291.80)">TT1#</text>
<text x="0.00 61.08 122.16 168.81" transform="matrix(0.6134 0 0 0.6336 1887.77 382.90)">TT2#</text>
<text x="0.00 61.08 122.16 172.10" transform="matrix(0.6030 0 0 0.6336 1887.79 473.10)">TT3#</text>
<text x="0.00 54.10 98.48 176.27 226.27 270.65 303.95 348.34 376.12 426.12 459.42 501.79 530.94 569.64 629.49" transform="matrix(0.8604 0 0 0.8062 894.48 1692.10)">Temperature(°C)</text>
<text x="0.00 66.70 111.08 150.00 177.78 216.70 244.48 288.87 338.87 383.25 427.63 449.23 479.90 552.88" transform="matrix(0 -0.8580 0.7925 0 83.31 1099.97)">Resistance (Ω)</text>
<text transform="matrix(0 -0.8641 0.8269 0 2425.27 948.82)">Strain</text>
</g>
</svg></body></html>
